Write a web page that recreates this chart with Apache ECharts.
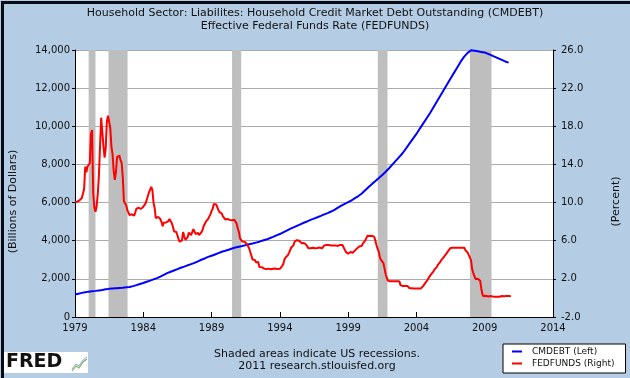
<!DOCTYPE html>
<html>
<head>
<meta charset="utf-8">
<script src="https://cdn.jsdelivr.net/npm/echarts@6/dist/echarts.min.js"></script>
<style>
  html, body { margin: 0; padding: 0; background: #b4cce4; }
  #chart { width: 630px; height: 378px; }
</style>
</head>
<body>
<div id="chart"></div>
<script>
// household credit market debt, billions, quarterly from 1979 Q1
var cmdebt = [
  1175, 1220, 1265, 1300,  1330, 1350, 1370, 1395,  1420, 1450, 1475, 1490,
  1505, 1520, 1535, 1555,  1575, 1620, 1670, 1730,  1780, 1850, 1910, 1975,
  2040, 2120, 2210, 2300,  2370, 2440, 2510, 2580,  2640, 2710, 2770, 2840,
  2920, 3000, 3070, 3150,  3210, 3280, 3350, 3420,  3470, 3530, 3590, 3640,
  3680, 3720, 3770, 3810,  3850, 3900, 3950, 4010,  4060, 4130, 4200, 4280,
  4350, 4440, 4530, 4620,  4700, 4780, 4860, 4940,  5010, 5090, 5160, 5230,
  5300, 5380, 5450, 5530,  5620, 5730, 5840, 5930,  6020, 6120, 6230, 6340,
  6480, 6650, 6820, 6980,  7130, 7290, 7450, 7620,  7800, 8000, 8200, 8400,
  8600, 8850, 9100, 9350,  9600, 9880, 10150, 10420, 10700, 11000, 11300, 11600,
  11900, 12200, 12500, 12800, 13100, 13400, 13650, 13850, 13990, 13960, 13930, 13900,
  13870, 13800, 13720, 13640, 13560, 13480, 13400, 13340
];

// effective federal funds rate, percent, monthly from Jan 1979
var fedfunds = [
  10.07, 10.06, 10.09, 10.01, 10.24, 10.29, 10.47, 10.94, 11.43, 13.77, 13.18, 13.78,
  13.82, 14.13, 17.19, 17.61, 10.98, 9.47, 9.03, 9.61, 10.87, 12.81, 15.85, 18.90,
  19.08, 15.93, 14.70, 15.72, 18.52, 19.10, 19.04, 17.82, 15.87, 15.08, 13.31, 12.37,
  13.22, 14.78, 14.68, 14.94, 14.45, 14.15, 12.59, 10.12, 10.31, 9.71, 9.20, 8.95,
  8.68, 8.51, 8.77, 8.80, 8.63, 8.98, 9.37, 9.56, 9.45, 9.48, 9.34, 9.47,
  9.56, 9.59, 9.91, 10.29, 10.32, 11.06, 11.23, 11.64, 11.30, 9.99, 9.43, 8.38,
  8.35, 8.50, 8.58, 8.27, 7.97, 7.53, 7.88, 7.90, 7.92, 7.99, 8.05, 8.27,
  8.14, 7.86, 7.48, 6.99, 6.85, 6.92, 6.56, 6.17, 5.89, 5.85, 6.04, 6.91,
  6.43, 6.10, 6.13, 6.37, 6.85, 6.73, 6.58, 6.73, 7.22, 7.29, 6.69, 6.77,
  6.83, 6.58, 6.58, 6.87, 7.09, 7.51, 7.75, 8.01, 8.19, 8.30, 8.35, 8.76,
  9.12, 9.36, 9.85, 9.84, 9.81, 9.53, 9.24, 8.99, 9.02, 8.84, 8.55, 8.45,
  8.23, 8.24, 8.28, 8.26, 8.18, 8.29, 8.15, 8.13, 8.20, 8.11, 7.81, 7.31,
  6.91, 6.25, 6.12, 5.91, 5.78, 5.90, 5.82, 5.66, 5.45, 5.21, 4.81, 4.43,
  4.03, 4.06, 3.98, 3.73, 3.82, 3.76, 3.25, 3.30, 3.22, 3.10, 3.09, 2.92,
  3.02, 3.03, 3.07, 2.96, 3.00, 3.04, 3.06, 3.03, 3.09, 2.99, 3.02, 2.96,
  3.05, 3.25, 3.34, 3.56, 4.01, 4.25, 4.26, 4.47, 4.73, 4.76, 5.29, 5.45,
  5.53, 5.92, 5.98, 6.05, 6.01, 6.00, 5.85, 5.74, 5.80, 5.76, 5.80, 5.60,
  5.56, 5.22, 5.31, 5.22, 5.24, 5.27, 5.40, 5.22, 5.30, 5.24, 5.31, 5.29,
  5.25, 5.19, 5.39, 5.51, 5.50, 5.56, 5.52, 5.54, 5.54, 5.50, 5.52, 5.50,
  5.56, 5.51, 5.49, 5.45, 5.49, 5.56, 5.54, 5.55, 5.51, 5.07, 4.83, 4.68,
  4.63, 4.76, 4.81, 4.74, 4.74, 4.76, 4.99, 5.07, 5.22, 5.20, 5.42, 5.30,
  5.45, 5.73, 5.85, 6.02, 6.27, 6.53, 6.54, 6.50, 6.52, 6.51, 6.51, 6.40,
  5.98, 5.49, 5.31, 4.80, 4.21, 3.97, 3.77, 3.65, 3.07, 2.49, 2.09, 1.82,
  1.73, 1.74, 1.73, 1.75, 1.75, 1.75, 1.73, 1.74, 1.75, 1.75, 1.34, 1.24,
  1.24, 1.26, 1.25, 1.26, 1.26, 1.22, 1.01, 1.03, 1.01, 1.01, 1.00, 0.98,
  1.00, 1.01, 1.00, 1.00, 1.00, 1.03, 1.26, 1.43, 1.61, 1.76, 1.93, 2.16,
  2.28, 2.50, 2.63, 2.79, 3.00, 3.04, 3.26, 3.50, 3.62, 3.78, 4.00, 4.16,
  4.29, 4.49, 4.59, 4.79, 4.94, 4.99, 5.24, 5.25, 5.25, 5.25, 5.25, 5.24,
  5.25, 5.26, 5.26, 5.25, 5.25, 5.25, 5.26, 5.02, 4.94, 4.76, 4.49, 4.24,
  3.94, 2.98, 2.61, 2.28, 1.98, 2.00, 2.01, 2.00, 1.81, 0.97, 0.39, 0.16,
  0.15, 0.22, 0.18, 0.15, 0.18, 0.21, 0.16, 0.16, 0.15, 0.12, 0.12, 0.12,
  0.11, 0.13, 0.16, 0.20, 0.20, 0.18, 0.18, 0.19, 0.19, 0.19, 0.19, 0.18
];

// US recessions (start, end) in decimal years
var recessions = [
  [1980.0, 1980.5],
  [1981.45, 1982.85],
  [1990.5, 1991.17],
  [2001.17, 2001.88],
  [2007.92, 2009.5]
];

var titleLines = [
  'Household Sector: Liabilites: Household Credit Market Debt Outstanding (CMDEBT)',
  'Effective Federal Funds Rate (FEDFUNDS)'
];
var noteLines = ['Shaded areas indicate US recessions.', '2011 research.stlouisfed.org'];
var legendNames = ['CMDEBT (Left)', 'FEDFUNDS (Right)'];

var FONT = '"DejaVu Sans", Verdana, sans-serif';

var chartDom = document.getElementById('chart');
var myChart = echarts.init(chartDom, null, { renderer: 'canvas' });

var debtData = cmdebt.map(function (v, i) { return [1979 + i / 4, v]; });
var rateData = fedfunds.map(function (v, i) { return [1979 + i / 12, v]; });

var option = {
  animation: false,
  backgroundColor: '#b4cce4',
  textStyle: { fontFamily: FONT },
  grid: {
    left: 75, right: 75, top: 50, bottom: 61,
    show: true, backgroundColor: '#ffffff', borderWidth: 0
  },
  xAxis: {
    type: 'value',
    min: 1979,
    max: 2014,
    interval: 5,
    axisLine: { show: true, onZero: false, lineStyle: { color: '#000', width: 1 } },
    axisTick: { show: true, inside: true, length: 5, lineStyle: { color: '#000' } },
    axisLabel: {
      margin: 6, fontSize: 10, color: '#111', fontFamily: FONT,
      formatter: function (v) { return String(v); }
    },
    splitLine: { show: false }
  },
  yAxis: [
    {
      type: 'value',
      min: 0,
      max: 14000,
      interval: 2000,
      position: 'left',
      name: '(Billions of Dollars)',
      nameLocation: 'middle',
      nameGap: 56,
      nameTextStyle: { fontSize: 11, color: '#111', fontFamily: FONT, padding: [0, 36, 0, 0] },
      axisLine: { show: true, lineStyle: { color: '#000', width: 1 } },
      axisTick: { show: true, length: 3, lineStyle: { color: '#000' } },
      axisLabel: {
        margin: 5, fontSize: 10, color: '#111', fontFamily: FONT,
        formatter: function (v) { return v.toLocaleString('en-US'); }
      },
      splitLine: { show: true, lineStyle: { color: '#aaaaaa', width: 1 } }
    },
    {
      type: 'value',
      min: -2,
      max: 26,
      interval: 4,
      position: 'right',
      name: '(Percent)',
      nameLocation: 'middle',
      nameGap: 58,
      nameTextStyle: { fontSize: 11, color: '#111', fontFamily: FONT, padding: [0, 36, 0, 0] },
      axisLine: { show: true, lineStyle: { color: '#000', width: 1 } },
      axisTick: { show: true, length: 3, lineStyle: { color: '#000' } },
      axisLabel: {
        margin: 8, fontSize: 10, color: '#111', fontFamily: FONT,
        formatter: function (v) { return v.toFixed(1); }
      },
      splitLine: { show: false }
    }
  ],
  legend: {
    data: legendNames,
    orient: 'vertical',
    left: 503,
    top: 344,
    padding: [2, 11, 4, 9],
    itemGap: 1,
    itemWidth: 10,
    itemHeight: 2,
    icon: 'rect',
    backgroundColor: '#fff',
    borderColor: '#000',
    borderWidth: 1,
    borderRadius: 0,
    textStyle: { fontSize: 9, color: '#111', fontFamily: FONT, padding: [0, 0, 0, 5], lineHeight: 11 }
  },
  graphic: [
    {
      type: 'rect', left: 0, top: 0, silent: true,
      shape: { width: 630, height: 378 },
      style: { fill: 'none', stroke: '#0a0a14', lineWidth: 3 }
    },
    {
      type: 'text', left: 'center', top: 7,
      style: {
        text: titleLines.join('\n'), font: '11px ' + FONT, fill: '#111',
        textAlign: 'center', lineHeight: 13
      }
    },
    {
      type: 'text', x: 317, y: 348,
      style: {
        text: noteLines.join('\n'), font: '11px ' + FONT, fill: '#111',
        textAlign: 'center', lineHeight: 12
      }
    },
    {
      type: 'rect', left: 4, top: 352, silent: true,
      shape: { width: 84, height: 21 },
      style: { fill: '#fff' }
    },
    {
      type: 'text', x: 6, y: 353,
      style: { text: 'FRED', font: 'bold 19px ' + FONT, fill: '#111' }
    },
    {
      type: 'polyline', silent: true,
      shape: { points: [[72, 371], [76, 366], [79, 368], [83, 362], [87, 359]] },
      style: { stroke: '#7bb661', lineWidth: 1.2, fill: 'none' }
    },
    {
      type: 'polyline', silent: true,
      shape: { points: [[72, 369], [76, 364], [79, 366], [83, 360], [87, 357]] },
      style: { stroke: '#8fa6c8', lineWidth: 1, fill: 'none' }
    }
  ],
  series: [
    {
      name: legendNames[0],
      type: 'line',
      yAxisIndex: 0,
      data: debtData,
      showSymbol: false,
      symbol: 'none',
      lineStyle: { color: '#0000ff', width: 2 },
      itemStyle: { color: '#0000ff' },
      markArea: {
        silent: true,
        itemStyle: { color: '#bebebe', opacity: 1 },
        data: recessions.map(function (r) { return [{ xAxis: r[0] }, { xAxis: r[1] }]; })
      }
    },
    {
      name: legendNames[1],
      type: 'line',
      yAxisIndex: 1,
      data: rateData,
      showSymbol: false,
      symbol: 'none',
      lineStyle: { color: '#ff0000', width: 2 },
      itemStyle: { color: '#ff0000' }
    }
  ]
};

myChart.setOption(option, true);
</script>
</body>
</html>
